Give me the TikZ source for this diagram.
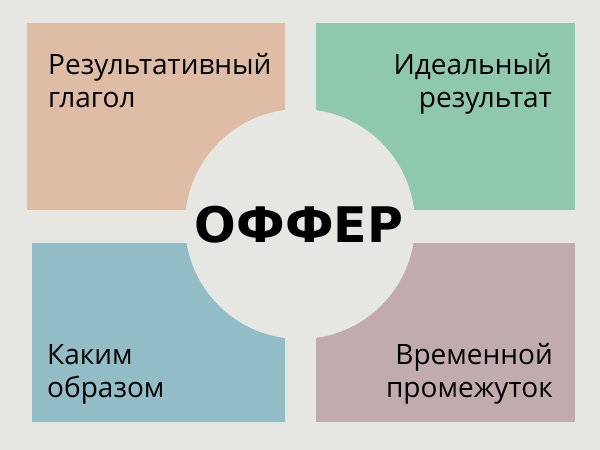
\documentclass[tikz,border=0pt]{standalone}
\usepackage{fontspec}
\setmainfont{Open Sans}
\newfontfamily\titlefont{DejaVu Sans}
\usetikzlibrary{positioning}

\definecolor{bgcol}{HTML}{E6E7E3}
\definecolor{peach}{HTML}{DFBCA5}
\definecolor{mint}{HTML}{90C8AD}
\definecolor{steel}{HTML}{92BDC7}
\definecolor{mauve}{HTML}{C2ABAD}

\tikzset{
  labeltext/.style={font=\fontsize{28}{33}\selectfont, inner sep=0pt, text=black},
}

\begin{document}
\begin{tikzpicture}[x=1pt,y=-1pt]

  \fill[bgcol] (0,0) rectangle (600,450); % фон

  \fill[peach] (27,23) rectangle (285,210); % верх слева
  \fill[mint] (316,23) rectangle (575,210); % верх справа
  \fill[steel] (32,243) rectangle (285,422); % низ слева
  \fill[mauve] (316,243) rectangle (575,422); % низ справа

  \fill[bgcol] (300,224) circle (115pt); % круг в центре

  \node[font=\titlefont\bfseries\fontsize{49}{49}\selectfont, inner sep=0pt, anchor=base] (offer) at (299,242) {ОФФЕР};

  % base = линия последней строки
  \node[labeltext, anchor=base west, align=left] (verb) at (48,107) {Результативный\\глагол};
  \node[labeltext, anchor=base east, align=right] (ideal) at (552,107) {Идеальный\\результат};
  \node[labeltext, anchor=base west, align=left] (how) at (47,397) {Каким\\образом};
  \node[labeltext, anchor=base east, align=right] (time) at (553,397) {Временной\\промежуток};

\end{tikzpicture}
\end{document}
